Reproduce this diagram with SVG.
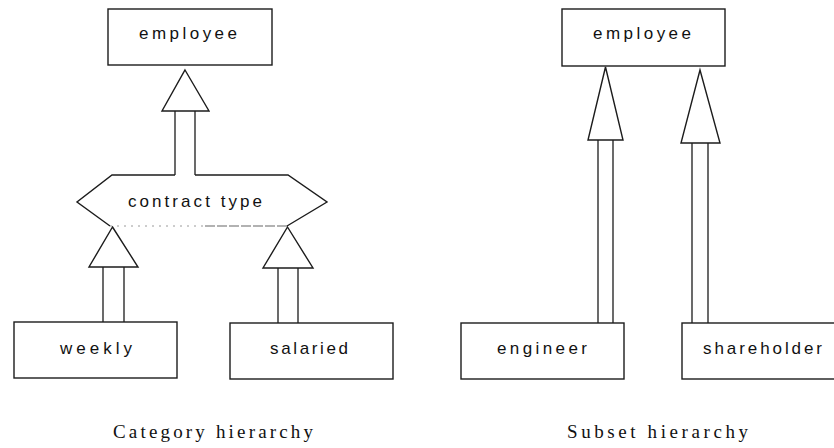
<svg xmlns="http://www.w3.org/2000/svg" width="834" height="448" viewBox="0 0 834 448">
  <style>
    .box { fill: #fff; stroke: #1c1c1c; stroke-width: 1.4; }
    .hex { fill: none; stroke: #1c1c1c; stroke-width: 1.4; stroke-linejoin: miter; }
    .lbl { font-family: "Liberation Sans", Arial, sans-serif; font-size: 17px; fill: #111; }
    .cap { font-family: "Liberation Serif", "Times New Roman", serif; font-size: 19px; fill: #111; }
    .head { fill: #fff; stroke: #1c1c1c; stroke-width: 1.4; stroke-linejoin: miter; }
    .shaft { fill: none; stroke: #1c1c1c; stroke-width: 1.3; }
  </style>

  <rect width="834" height="448" fill="#fff"/>

  <!-- Category hierarchy -->
  <g id="cat-employee">
    <rect class="box" x="108" y="9" width="164" height="56"/>
    <text class="lbl" x="139" y="39" textLength="98" lengthAdjust="spacing">employee</text>
  </g>

  <g id="contract-type">
    <path class="hex" d="M175,175 H112 L77,202 L110,226 M287,226 L327,202 L288,175 H195"/>
    <!-- faint lower edge -->
    <path d="M110,226 H205" fill="none" stroke="#9a9a9a" stroke-width="1" stroke-dasharray="2 5"/>
    <path d="M205,226 H287" fill="none" stroke="#666" stroke-width="1.2" stroke-dasharray="10 2"/>
    <text class="lbl" x="128" y="207" textLength="134" lengthAdjust="spacing">contract type</text>
  </g>

  <g id="weekly">
    <rect class="box" x="14" y="322" width="163" height="56"/>
    <text class="lbl" x="60" y="354" textLength="72" lengthAdjust="spacing">weekly</text>
  </g>

  <g id="salaried">
    <rect class="box" x="230" y="323" width="163" height="56"/>
    <text class="lbl" x="270" y="354" textLength="78" lengthAdjust="spacing">salaried</text>
  </g>

  <!-- Subset hierarchy -->
  <g id="sub-employee">
    <rect class="box" x="562" y="9" width="163" height="57"/>
    <text class="lbl" x="593" y="39" textLength="98" lengthAdjust="spacing">employee</text>
  </g>

  <g id="engineer">
    <rect class="box" x="461" y="323" width="163" height="56"/>
    <text class="lbl" x="497" y="354" textLength="90" lengthAdjust="spacing">engineer</text>
  </g>

  <g id="shareholder">
    <rect class="box" x="682" y="323" width="163" height="56"/>
    <text class="lbl" x="703" y="354" textLength="119" lengthAdjust="spacing">shareholder</text>
  </g>

  <!-- Hollow generalisation arrows: open triangle head on a double-line shaft -->
  <g id="connectors">
    <!-- contract type -> employee -->
    <path class="shaft" d="M175,111 V175 M195,111 V175"/>
    <polygon class="head" points="185,70 209,111 162,111"/>

    <!-- weekly -> contract type -->
    <path class="shaft" d="M103,267 V322 M124,267 V322"/>
    <polygon class="head" points="112.5,227 138,267 89,267"/>

    <!-- salaried -> contract type -->
    <path class="shaft" d="M278,268 V323 M298,268 V323"/>
    <polygon class="head" points="287.5,227 313,268 263,268"/>

    <!-- engineer -> employee -->
    <path class="shaft" d="M598,140 V323 M613,140 V323"/>
    <polygon class="head" points="605.5,67 623,140 588,140"/>

    <!-- shareholder -> employee -->
    <path class="shaft" d="M692,143 V323 M708,143 V323"/>
    <polygon class="head" points="700,70 720,143 681,143"/>
  </g>

  <g id="captions">
    <text class="cap" x="113" y="438" textLength="200" lengthAdjust="spacing">Category hierarchy</text>
    <text class="cap" x="567" y="438" textLength="181" lengthAdjust="spacing">Subset hierarchy</text>
  </g>
</svg>
